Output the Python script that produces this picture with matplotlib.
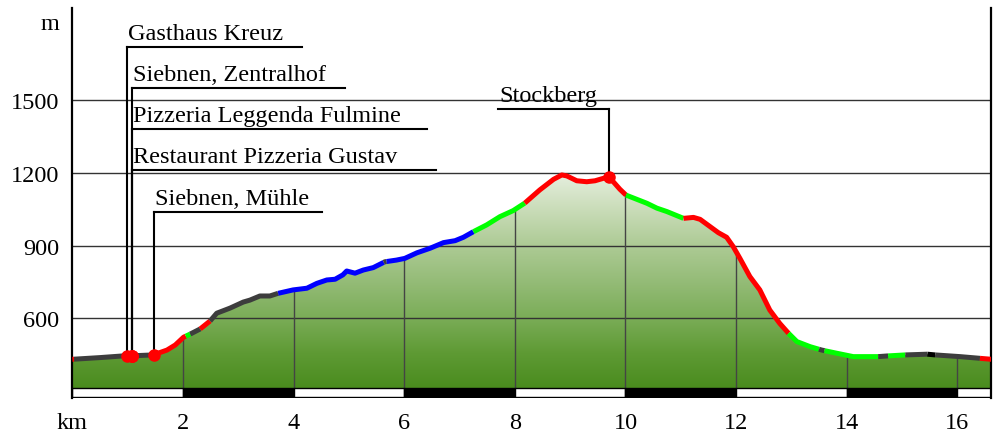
import numpy as np
import matplotlib
matplotlib.use('Agg')
import matplotlib.pyplot as plt
from matplotlib.patches import Rectangle, Polygon
from matplotlib.colors import LinearSegmentedColormap
from matplotlib import transforms

plt.rcParams['font.family'] = ['Liberation Serif', 'DejaVu Serif']

# ---------------- data ----------------
dist_km = [0.00, 0.50, 0.92, 1.04, 1.46, 1.71, 1.86, 2.01, 2.13, 2.31, 2.49, 2.61,
           2.85, 3.09, 3.21, 3.39, 3.57, 3.72, 3.99, 4.24, 4.42, 4.60, 4.75, 4.89,
           4.96, 5.11, 5.26, 5.44, 5.65, 5.86, 6.01, 6.23, 6.47, 6.71, 6.92, 7.07,
           7.25, 7.49, 7.73, 7.97, 8.18, 8.45, 8.70, 8.85, 8.94, 9.12, 9.30, 9.45,
           9.60, 9.69, 9.78, 9.90, 10.01, 10.20, 10.39, 10.57, 10.75, 10.90, 11.05,
           11.23, 11.35, 11.53, 11.68, 11.83, 11.95, 12.07, 12.25, 12.43, 12.61,
           12.79, 12.95, 13.10, 13.34, 13.55, 13.82, 14.12, 14.42, 14.57, 14.75,
           15.06, 15.46, 15.60, 16.05, 16.41, 16.62]
elev_m = [431, 438, 445, 445, 449, 469, 490, 522, 535, 556, 589, 621,
          642, 667, 675, 692, 692, 703, 717, 724, 744, 758, 761, 779,
          795, 786, 799, 809, 833, 840, 847, 870, 889, 912, 920, 934,
          957, 985, 1019, 1044, 1075, 1129, 1173, 1191, 1187, 1167, 1163, 1167,
          1177, 1184, 1163, 1132, 1108, 1091, 1074, 1054, 1040, 1026, 1012,
          1016, 1008, 978, 953, 934, 895, 847, 772, 717, 634,
          579, 538, 504, 483, 469, 456, 442, 442, 442, 445,
          449, 452, 449, 442, 435, 431]

seg_breaks = [0.0, 0.03, 1.42, 2.05, 2.13, 2.31, 2.49, 3.72, 5.63, 5.68, 7.25, 8.18,
              10.01, 11.05, 12.95, 13.50, 13.60, 14.57, 14.75, 15.06, 15.46, 15.60,
              16.41, 16.62]
seg_kinds = ['red', 'gray', 'red', 'green', 'gray', 'red', 'gray', 'blue', 'gray',
             'blue', 'green', 'red', 'green', 'red', 'green', 'gray', 'green', 'gray',
             'green', 'gray', 'black', 'gray', 'red']

poi_names = ['Gasthaus Kreuz', 'Siebnen, Zentralhof', 'Pizzeria Leggenda Fulmine',
             'Restaurant Pizzeria Gustav', 'Siebnen, Mühle', 'Stockberg']
poi_km = [0.98, 1.08, 1.08, 1.08, 1.47, 9.70]
label_elev = [1718, 1548, 1380, 1211, 1040, 1463]
label_end_km = [4.15, 4.93, 6.41, 6.57, 4.51, 7.70]

y_ticks = [600, 900, 1200, 1500]
x_ticks = [0, 2, 4, 6, 8, 10, 12, 14, 16]
x_tick_labels = ['km', '2', '4', '6', '8', '10', '12', '14', '16']

# ---------------- style ----------------
kind_colors = {'red': '#ff0000', 'gray': '#3d3d3d', 'green': '#00ff00',
               'blue': '#0000ff', 'black': '#000000'}
X_MAX = 16.61
Y_MIN, Y_MAX = 271.4, 1879.3
FILL_BOTTOM = 311.5
BAR_BOTTOM = 277.0
FS = 17.5

W, H = 994, 433
fig = plt.figure(figsize=(W / 100, H / 100), dpi=100)
ax = fig.add_axes([72.4 / W, 1 - 398 / H, (991 - 72.4) / W, 390 / H])
ax.set_xlim(0, X_MAX)
ax.set_ylim(Y_MIN, Y_MAX)
ax.set_xticks([])
ax.set_yticks([])
for s in ['top', 'bottom']:
    ax.spines[s].set_visible(False)
for s in ['left', 'right']:
    ax.spines[s].set_linewidth(1.6)
    ax.spines[s].set_color('black')

x = np.array(dist_km, dtype=float)
y = np.array(elev_m, dtype=float)

# gradient fill
poly_xy = np.vstack([np.column_stack([x, y]),
                     [[x[-1], FILL_BOTTOM], [x[0], FILL_BOTTOM]]])
poly = Polygon(poly_xy, closed=True, facecolor='none', edgecolor='none')
ax.add_patch(poly)
cmap = LinearSegmentedColormap.from_list('g', [
    (0.0, '#4a8c1e'), (0.16, '#5e9a34'), (0.33, '#7bad58'),
    (0.50, '#95bc78'), (0.67, '#aecb96'), (0.83, '#c9dcb8'), (1.0, '#e6efdf')])
grad = np.linspace(0, 1, 256).reshape(-1, 1)
im = ax.imshow(grad, cmap=cmap, origin='lower', aspect='auto',
               extent=[0, X_MAX, FILL_BOTTOM, max(elev_m) + 5], zorder=1)
im.set_clip_path(poly)

# horizontal grid
for t in y_ticks:
    ax.plot([0, X_MAX], [t, t], color='#333333', lw=1.0, zorder=2)
# vertical grid within fill
for t in x_ticks[1:]:
    ax.plot([t, t], [FILL_BOTTOM, np.interp(t, x, y)], color='#444444', lw=1.0, zorder=2)

# scale bar
for i, k0 in enumerate(range(0, 18, 2)):
    k1 = min(k0 + 2, X_MAX)
    fc = 'black' if (k0 // 2) % 2 == 1 else 'white'
    ax.add_patch(Rectangle((k0, BAR_BOTTOM), k1 - k0, FILL_BOTTOM - BAR_BOTTOM,
                           facecolor=fc, edgecolor='black', lw=1.0, zorder=2))

# colored profile segments
for a, b, kind in zip(seg_breaks[:-1], seg_breaks[1:], seg_kinds):
    inside = (x > a) & (x < b)
    sx = np.concatenate([[a], x[inside], [b]])
    sy = np.concatenate([[np.interp(a, x, y)], y[inside], [np.interp(b, x, y)]])
    ax.plot(sx, sy, color=kind_colors[kind], lw=3.6, solid_capstyle='butt',
            solid_joinstyle='round', zorder=4)

# annotations
for name, pk, le, ek in zip(poi_names, poi_km, label_elev, label_end_km):
    pe = np.interp(pk, x, y)
    ax.plot([pk, pk], [pe, le], color='black', lw=1.5, zorder=3)
    ax.plot([min(pk, ek), max(pk, ek)], [le, le], color='black', lw=1.5, zorder=3)
    tr = transforms.offset_copy(ax.transData, fig=fig, x=1, y=7, units='dots')
    ax.text(min(pk, ek), le, name, transform=tr, fontsize=FS, ha='left',
            va='baseline', zorder=6)
    ax.plot([pk], [pe], 'o', color='#ff0000', ms=8, mec='#ff0000', zorder=5)

# tick labels
ytr = transforms.offset_copy(ax.transData, fig=fig, x=0, y=-9, units='dots')
ytr2 = transforms.blended_transform_factory(fig.transFigure, ytr)
for t in y_ticks:
    ax.text(59.5 / W, t, str(t), transform=ytr2, fontsize=FS, ha='right',
            va='baseline', clip_on=False)
fig.text(59.5 / W, 1 - 30 / H, 'm', fontsize=FS, ha='right', va='baseline')
xtr = transforms.blended_transform_factory(ax.transData, fig.transFigure)
for t, lab in zip(x_ticks, x_tick_labels):
    ax.text(t, 1 - 429 / H, lab, transform=xtr, fontsize=FS, ha='center',
            va='baseline', clip_on=False)

fig.savefig('out.png', dpi=100)
